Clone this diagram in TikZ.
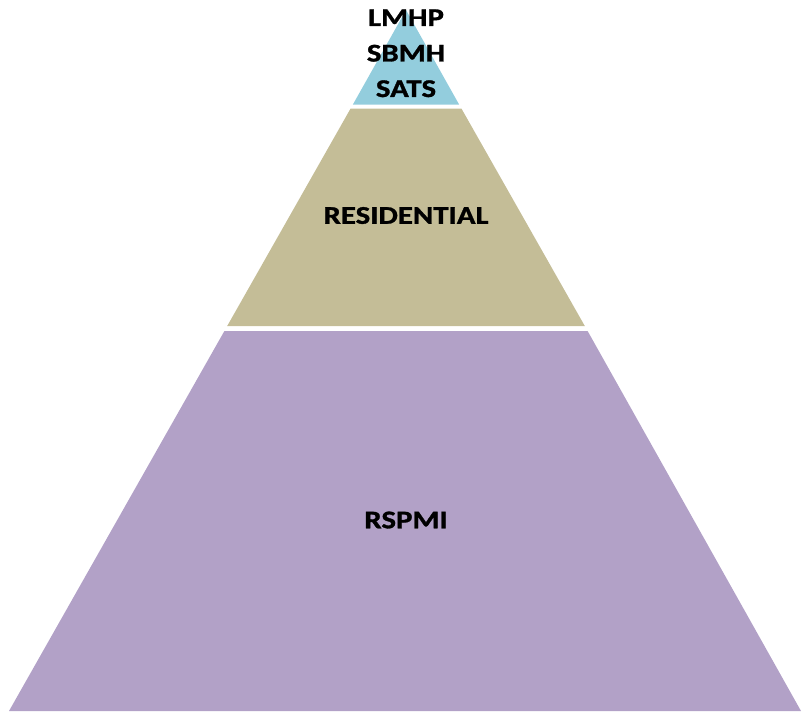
\documentclass[tikz,border=0pt]{standalone}
\usepackage{fontspec}
\setmainfont{Carlito}
\newfontfamily\widefont[FakeStretch=1.21,FakeBold=1.2]{Carlito}
\definecolor{tierblue}{HTML}{93CDDD}
\definecolor{tiertan}{HTML}{C4BD97}
\definecolor{tierpurple}{HTML}{B2A1C7}
\begin{document}
\begin{tikzpicture}[x=1pt,y=-1pt,
  tierlabel/.style={font=\widefont\bfseries\fontsize{25.5}{35.5}\selectfont, text=black, inner sep=0pt, align=center}]
\useasboundingbox (0,0) rectangle (802,713);
% tiers (apex at (406,10), half-slope 0.565)
\fill[tierblue] (406,10) -- (459.1,104.5) -- (352.9,104.5) -- cycle;
\fill[tiertan] (350.6,108.5) -- (461.4,108.5) -- (584.8,326) -- (227.2,326) -- cycle;
\fill[tierpurple] (224.4,331) -- (587.6,331) -- (801,711) -- (9,711) -- cycle;
% labels
\node[tierlabel] (top) at (406,53.3) {LMHP\\SBMH\\SATS};
\node[tierlabel] (mid) at (406,215.5) {RESIDENTIAL};
\node[tierlabel] (bot) at (406,520) {RSPMI};
\end{tikzpicture}
\end{document}
